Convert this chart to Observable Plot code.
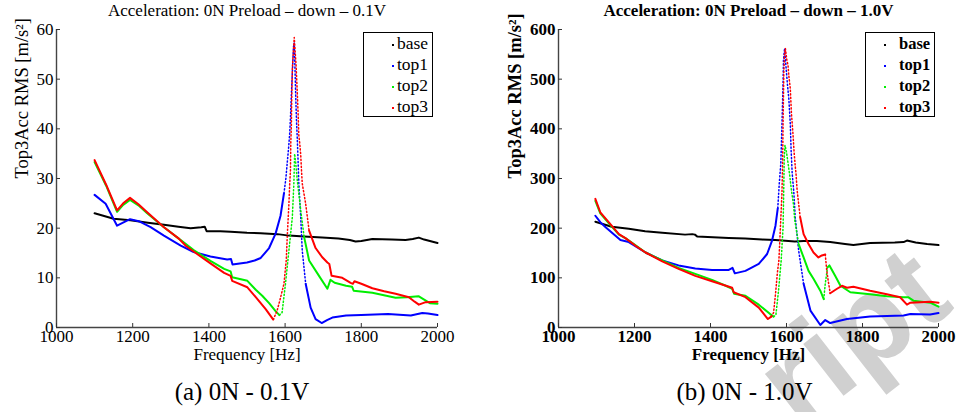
<!DOCTYPE html>
<html><head><meta charset="utf-8">
<script src="https://cdn.jsdelivr.net/npm/d3@7"></script>
<script src="https://cdn.jsdelivr.net/npm/@observablehq/plot@0.6"></script>
<style>
body{margin:0;background:#fff;}
#wrap{position:relative;width:958px;height:412px;overflow:hidden;background:#fff;}
.panel{position:absolute;top:0;}
.panel svg{background:transparent !important;}
.panel svg text{font-family:"Liberation Serif",serif !important;}
.panel.bold svg text{font-weight:bold;}
.panel svg text.cap{font-weight:normal !important;}
.wm{position:absolute;font:bold 124px/1 "Liberation Sans",sans-serif;color:#d0d0d0;white-space:nowrap;transform-origin:0 0;}
.legend{position:absolute;border:1.5px solid #000;background:#fff;box-sizing:border-box;font-family:"Liberation Serif",serif;}
.legend .row{position:absolute;white-space:nowrap;line-height:1;}
.legend .dot{position:absolute;width:2px;height:2px;}
</style></head><body><div id="wrap"></div>
<script>
// ---- data ----
const seriesNames = ["base", "top1", "top2", "top3"];
const seriesColors = ["#000000", "#0000ff", "#00ee00", "#ff0000"];
const xTicks = [1000, 1200, 1400, 1600, 1800, 2000];
const aYTicks = [0, 10, 20, 30, 40, 50, 60];
const bYTicks = [0, 100, 200, 300, 400, 500, 600];

const a_base = [[1100,23.0],[1150,21.9],[1194,21.6],[1240,21.1],[1282,20.7],[1320,20.3],[1352,20.0],[1380,20.2],[1389,20.3],[1394,19.4],[1430,19.4],[1457,19.3],[1500,19.1],[1536,19.0],[1580,18.8],[1610,18.5],[1650,18.3],[1697,18.1],[1740,17.9],[1770,17.6],[1785,17.3],[1800,17.4],[1829,17.8],[1880,17.7],[1916,17.6],[1935,17.8],[1951,18.1],[1965,17.7],[1985,17.3],[2000,17.0]];
const a_top1 = [[1100,26.7],[1129,24.9],[1159,20.5],[1172,21.0],[1193,21.8],[1216,21.4],[1247,20.2],[1282,18.5],[1326,16.5],[1360,15.2],[1404,14.3],[1448,13.7],[1458,13.8],[1462,12.7],[1500,13.1],[1520,13.5],[1536,14.0],[1558,16.0],[1575,18.9],[1588,22.5],[1597,27.0],[1602,30.0],[1606,33.5],[1609,36.0],[1612,39.0],[1614,42.1],[1616,46.0],[1618,49.5],[1620,53.0],[1622,56.5],[1624,57.3],[1626,52.0],[1628,46.3],[1630,41.5],[1632,38.0],[1634,33.7],[1636,29.0],[1641,22.2],[1645,15.5],[1654,8.8],[1667,4.0],[1680,1.7],[1696,0.9],[1710,1.5],[1724,2.0],[1760,2.4],[1800,2.5],[1870,2.7],[1930,2.4],[1960,2.9],[1975,2.8],[2000,2.5]];
const a_top2 = [[1100,33.3],[1130,28.6],[1159,23.3],[1175,24.7],[1193,25.7],[1215,24.6],[1238,23.0],[1282,20.2],[1321,17.9],[1360,15.6],[1404,13.4],[1440,11.8],[1457,11.3],[1461,10.1],[1501,9.4],[1523,7.6],[1540,6.4],[1558,4.9],[1575,3.3],[1585,2.5],[1592,3.0],[1601,8.8],[1610,15.5],[1619,22.2],[1623,29.0],[1625,35.0],[1628,33.0],[1632,29.6],[1641,23.6],[1650,18.2],[1663,13.5],[1689,10.4],[1711,7.8],[1719,9.6],[1730,9.0],[1760,8.4],[1776,8.2],[1780,7.4],[1829,7.0],[1890,6.0],[1920,6.1],[1950,6.3],[1965,5.6],[1980,4.9],[2000,4.8]];
const a_top3 = [[1100,33.7],[1130,28.8],[1159,23.6],[1175,25.0],[1193,26.1],[1215,24.8],[1238,23.2],[1282,20.2],[1321,17.9],[1340,16.4],[1360,15.3],[1404,12.9],[1440,11.0],[1457,10.4],[1461,9.4],[1501,8.1],[1523,6.1],[1549,3.7],[1569,1.6],[1579,3.4],[1586,5.4],[1597,8.8],[1603,13.5],[1606,18.9],[1610,24.9],[1612,28.8],[1614,31.5],[1615,37.4],[1616.5,40.7],[1617,44.3],[1619,52.2],[1624,58.4],[1629,52.5],[1632,47.2],[1634,43.4],[1636,38.7],[1638,37.4],[1641,34.8],[1643,31.7],[1645,29.0],[1654,24.9],[1663,19.5],[1680,16.0],[1697,14.2],[1711,13.1],[1716,12.8],[1722,10.4],[1750,10.0],[1772,9.0],[1778,8.8],[1782,9.3],[1800,8.8],[1829,7.9],[1860,7.3],[1890,6.8],[1925,6.1],[1940,5.2],[1951,4.6],[1969,5.1],[2000,5.2]];

const b_base = [[1097,213],[1140,203],[1185,199],[1228,194],[1273,191],[1333,187],[1352,188],[1359,187],[1365,183],[1448,180],[1491,179],[1536,177],[1571,176],[1622,173],[1645,174],[1680,174],[1715,172],[1754,168],[1776,166],[1798,168],[1820,170],[1885,171],[1908,172],[1917,175],[1940,171],[1970,168],[2000,166]];
const b_top1 = [[1097,225],[1110,212],[1124,202],[1163,176],[1185,172],[1229,151],[1273,135],[1316,125],[1360,119],[1404,116],[1448,116],[1458,120],[1464,109],[1492,114],[1527,128],[1549,148],[1562,175],[1571,205],[1577,240],[1581,290],[1585,330],[1587,380],[1589,435],[1591,495],[1592,538],[1595,562],[1599,522],[1603,485],[1606,462],[1610,410],[1612,360],[1615,310],[1619,275],[1623,222],[1632,155],[1645,88],[1663,34],[1689,5],[1702,15],[1715,9],[1759,17],[1820,22],[1908,24],[1926,27],[1978,26],[2000,29]];
const b_top2 = [[1097,255],[1110,230],[1132,210],[1159,187],[1176,180],[1202,166],[1229,151],[1273,135],[1316,120],[1360,108],[1404,96],[1440,84],[1457,78],[1462,68],[1492,64],[1527,46],[1557,27],[1566,22],[1572,25],[1579,74],[1586,135],[1591,202],[1593,290],[1594,340],[1596,367],[1600,353],[1605,326],[1609,303],[1613,276],[1618,250],[1622,215],[1632,168],[1645,141],[1658,114],[1671,98],[1689,74],[1698,57],[1702,88],[1708,121],[1713,125],[1728,104],[1742,84],[1768,71],[1820,67],[1864,63],[1908,61],[1920,61],[1934,54],[1978,50],[2000,42]];
const b_top3 = [[1097,259],[1110,232],[1132,212],[1159,188],[1176,180],[1202,165],[1229,151],[1273,133],[1316,118],[1360,104],[1404,93],[1457,80],[1461,71],[1492,61],[1527,40],[1551,17],[1560,22],[1566,30],[1571,67],[1576,110],[1580,135],[1584,202],[1588,269],[1590,340],[1591,414],[1593,515],[1595,552],[1597,562],[1601,538],[1604,528],[1606,508],[1610,481],[1613,431],[1615,411],[1617,390],[1620,353],[1623,325],[1625,310],[1628,276],[1636,222],[1645,188],[1658,168],[1671,151],[1684,141],[1693,145],[1702,147],[1706,114],[1711,88],[1715,69],[1733,78],[1746,84],[1759,80],[1776,82],[1820,74],[1864,67],[1899,61],[1917,46],[1926,50],[1978,52],[2000,50]];

// frequency ranges where the sampled points are sparse enough to appear dotted
const a_sparse = [[], [[1597,1660]], [[1588,1655]], [[1570,1665]]];
const b_sparse = [[], [[1575,1650]], [[1568,1630],[1698,1710]], [[1562,1640],[1702,1716]]];

const titles = ["Acceleration: 0N Preload \u2013 down \u2013 0.1V", "Acceleration: 0N Preload \u2013 down \u2013 1.0V"];
const captions = ["(a) 0N - 0.1V", "(b) 0N - 1.0V"];
const xLabel = "Frequency [Hz]";
const yLabel = "Top3Acc RMS [m/s\u00b2]";
const watermark = "ript";

// ---- build ----
function runs(pts, intervals, key) {
  const out = [];
  let id = -1, cur = null;
  for (let i = 0; i < pts.length - 1; i++) {
    const m = (pts[i][0] + pts[i + 1][0]) / 2;
    const dot = intervals.some(([a, b]) => m >= a && m <= b);
    if (dot !== cur) { id++; cur = dot; out.push({f: pts[i][0], v: pts[i][1], run: key + id, dot}); }
    out.push({f: pts[i + 1][0], v: pts[i + 1][1], run: key + id, dot});
  }
  return out;
}

const panels = [
  {series: [a_base, a_top1, a_top2, a_top3], sparse: a_sparse, yTicks: aYTicks, left: 0, mL: 56, mR: 42, weight: "normal", ylDx: -34, capDx: -5,
   legend: {x: 363, w: 70, dotX: 28, textX: 33, fs: 17.5}},
  {series: [b_base, b_top1, b_top2, b_top3], sparse: b_sparse, yTicks: bYTicks, left: 479, mL: 79, mR: 20, weight: "bold", ylDx: -43, capDx: -4,
   legend: {x: 865, w: 70, dotX: 18, textX: 33, fs: 16.5}}
];

const wrap = document.getElementById("wrap");

// faint watermark of the source page (cut off by the page edge, as in the reference)
const wm = document.createElement("div");
wm.className = "wm";
wm.textContent = watermark;
wm.style.left = "734px"; wm.style.top = "348px";
wm.style.transform = "rotate(-38deg)";
wrap.appendChild(wm);

panels.forEach((p, pi) => {
  const marks = [];
  const font = {fontFamily: "Liberation Serif", fontWeight: p.weight};
  marks.push(Plot.ruleY([0], {x1: xTicks[0], x2: xTicks[xTicks.length - 1], stroke: "#444", strokeWidth: 1.6}));
  marks.push(Plot.ruleX([xTicks[0]], {y1: p.yTicks[0], y2: p.yTicks[p.yTicks.length - 1], stroke: "#444", strokeWidth: 1.4}));
  marks.push(Plot.axisX(xTicks, {anchor: "bottom", tickSize: -4, tickPadding: 6, tickFormat: d => String(d), stroke: "#333", fontSize: 17, label: null, ...font}));
  marks.push(Plot.axisY(p.yTicks, {anchor: "left", tickSize: -4, tickPadding: 7, tickFormat: d => String(d), stroke: "#333", fontSize: 17, label: null, ...font}));
  p.series.forEach((pts, si) => {
    const rows = runs(pts, p.sparse[si], seriesNames[si]);
    marks.push(Plot.line(rows.filter(d => !d.dot), {x: "f", y: "v", z: "run", stroke: seriesColors[si], strokeWidth: 2, curve: "linear"}));
    marks.push(Plot.line(rows.filter(d => d.dot), {x: "f", y: "v", z: "run", stroke: seriesColors[si], strokeWidth: 1.5, strokeDasharray: "1.2,2.3", curve: "linear"}));
  });
  marks.push(Plot.text([titles[pi]], {frameAnchor: "top", lineAnchor: "middle", dy: -19, fontSize: 17, ...font}));
  marks.push(Plot.text([xLabel], {frameAnchor: "bottom", lineAnchor: "middle", dy: 27, fontSize: 17, ...font}));
  marks.push(Plot.text([yLabel], {frameAnchor: "left", lineAnchor: "middle", rotate: -90, dx: p.ylDx, fontSize: 18.5, ...font}));
  marks.push(Plot.text([captions[pi]], {frameAnchor: "bottom", lineAnchor: "middle", dy: 64, dx: p.capDx, fontSize: 25, fontFamily: "Liberation Serif", fontWeight: "normal", className: "cap"}));

  const chart = Plot.plot({
    width: 479, height: 412,
    marginLeft: p.mL, marginRight: p.mR, marginTop: 29, marginBottom: 85,
    x: {domain: [xTicks[0], xTicks[xTicks.length - 1]], label: null},
    y: {domain: [p.yTicks[0], p.yTicks[p.yTicks.length - 1]], label: null},
    style: {background: "transparent", color: "#000", overflow: "visible", fontFamily: "Liberation Serif", fontWeight: p.weight, fontSize: "17px"},
    marks
  });
  // caption text keeps the normal weight
  chart.querySelectorAll("text").forEach(t => { if (t.textContent === captions[pi]) t.classList.add("cap"); });
  const div = document.createElement("div");
  div.className = "panel" + (p.weight === "bold" ? " bold" : "");
  div.style.left = p.left + "px";
  div.appendChild(chart);
  wrap.appendChild(div);

  // legend box
  const L = p.legend;
  const lg = document.createElement("div");
  lg.className = "legend";
  lg.style.left = L.x + "px"; lg.style.top = "32px";
  lg.style.width = L.w + "px"; lg.style.height = "85px";
  lg.style.fontWeight = p.weight;
  seriesNames.forEach((name, i) => {
    const cy = 12 + i * 21;
    const d = document.createElement("div");
    d.className = "dot";
    d.style.background = seriesColors[i];
    d.style.left = L.dotX + "px"; d.style.top = (cy - 1) + "px";
    lg.appendChild(d);
    const t = document.createElement("div");
    t.className = "row";
    t.style.fontSize = L.fs + "px";
    t.style.left = L.textX + "px"; t.style.top = (cy - L.fs * 0.55) + "px";
    t.textContent = name;
    lg.appendChild(t);
  });
  wrap.appendChild(lg);
});
</script></body></html>
